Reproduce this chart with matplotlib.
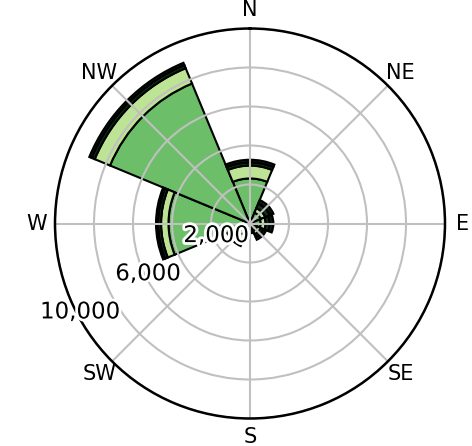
import numpy as np
import matplotlib
matplotlib.use("Agg")
import matplotlib.pyplot as plt
import matplotlib.patheffects as pe
from matplotlib.transforms import ScaledTranslation

directions = ["N", "NE", "E", "SE", "S", "SW", "W", "NW"]
angles_deg = [0, 45, 90, 135, 180, 225, 270, 315]

# counts per direction, stacked outward by speed bin
low_speed = [2310, 600, 550, 400, 250, 650, 4180, 7770]
mid_speed = [660, 250, 250, 200, 100, 250, 380, 850]
high_speed = [160, 250, 200, 150, 80, 200, 150, 170]
top_speed = [140, 200, 200, 150, 70, 150, 110, 130]

bin_colors = ["#6cbe69", "#bde494", "#10301a", "#0a1a0d"]

r_ticks = [2000, 4000, 6000, 8000, 10000]
r_labels = {2000: "2,000", 6000: "6,000", 10000: "10,000"}

fig = plt.figure(figsize=(4.72, 4.46), dpi=100)
ax = fig.add_axes([55 / 472, 27.5 / 446, 390 / 472, 390 / 446], projection="polar")
ax.set_theta_zero_location("N")
ax.set_theta_direction(-1)

theta = np.radians(angles_deg)
bottom = np.zeros(len(directions))
for vals, col in zip([low_speed, mid_speed, high_speed, top_speed], bin_colors):
    vals = np.array(vals, dtype=float)
    ax.bar(theta, vals, width=np.pi / 4, bottom=bottom, color=col,
           edgecolor="black", linewidth=1.5, align="center")
    bottom += vals

ax.set_ylim(0, 10000)
ax.set_yticks(r_ticks)
ax.set_yticklabels([])

# radial labels along the lower-left spoke, nudged up a little
label_angle = np.radians(240.7)
shift = ax.transData + ScaledTranslation(0, 0.07, fig.dpi_scale_trans)
for r, txt in r_labels.items():
    t = ax.text(label_angle, r, txt, transform=shift, ha="center", va="center",
                fontsize=16.5, zorder=5)
    t.set_path_effects([pe.withStroke(linewidth=4, foreground="white")])

ax.set_xticks(theta)
ax.set_xticklabels(directions, fontsize=15)
ax.tick_params(axis="x", pad=2.5)

ax.grid(color="#c0c0c0", linewidth=1.5)
ax.set_axisbelow(False)
ax.spines["polar"].set_linewidth(1.8)
ax.spines["polar"].set_zorder(3)

fig.savefig("out.png", dpi=100)
